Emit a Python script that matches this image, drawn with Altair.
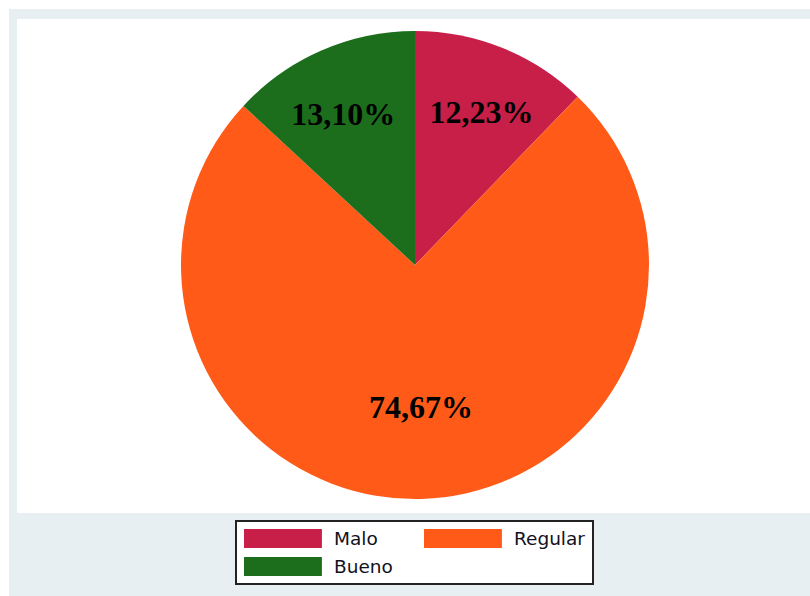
import altair as alt
import pandas as pd

categories = ["Malo", "Regular", "Bueno"]
values = [12.23, 74.67, 13.10]
colors = ["#c71f48", "#ff5a17", "#1d6e1c"]

labels = [f"{v:.2f}".replace(".", ",") + "%" for v in values]
df = pd.DataFrame({"cat": categories, "val": values, "lab": labels,
                   "ord": list(range(len(categories)))})

W, H = 793, 494
CX, CY, R = 398, 246, 234

bg = alt.Chart(alt.Data(values=[{}]))
strip_top = bg.mark_rect(color="white").encode(
    x=alt.value(-17), x2=alt.value(W), y=alt.value(-19), y2=alt.value(-10))
strip_left = bg.mark_rect(color="white").encode(
    x=alt.value(-17), x2=alt.value(-8), y=alt.value(-19), y2=alt.value(H + 83))

base = alt.Chart(df)
color = alt.Color("cat:N", sort=categories,
                  scale=alt.Scale(domain=categories, range=colors),
                  legend=alt.Legend(
                      title=None, orient="none", legendX=219, legendY=502,
                      direction="horizontal", columns=2,
                      symbolType="M-1,-1H7.2V1H-1Z", symbolSize=361,
                      symbolStrokeWidth=0, symbolOpacity=1,
                      labelFont="DejaVu Sans", labelFontSize=18.5,
                      labelColor="#111122", labelOffset=71,
                      columnPadding=31, rowPadding=9, padding=8,
                      strokeColor="#222222", fillColor="white"))

pie = base.mark_arc(radius=R).encode(
    theta=alt.Theta("val:Q", stack=True),
    order=alt.Order("ord:Q"),
    color=color,
    x=alt.value(CX), y=alt.value(CY),
)

def text_layer(cat, radius, dx, dy):
    return base.mark_text(font="Liberation Serif", fontWeight="bold", fontSize=32,
                          color="black", baseline="middle", align="center",
                          radius=radius, dx=dx, dy=dy).encode(
        theta=alt.Theta("val:Q", stack=True),
        order=alt.Order("ord:Q"),
        text="lab2:N",
        x=alt.value(CX), y=alt.value(CY),
    ).transform_calculate(lab2=f"datum.cat == '{cat}' ? datum.lab : ''")

t_malo = text_layer("Malo", 167, 4, 3)
t_reg = text_layer("Regular", 143, 2, 0)
t_bueno = text_layer("Bueno", 167, -5, 3)

chart = alt.layer(strip_top, strip_left, pie, t_malo, t_reg, t_bueno).properties(
    width=W, height=H,
    padding={"left": 17, "top": 19, "right": 0, "bottom": 83},
    autosize=alt.AutoSizeParams(type="none"),
    background="#e8eff2",
).configure_view(fill="white", stroke=None).configure_legend(strokeWidth=2)

chart.save("out.html", embed_options={"renderer": "svg", "actions": False})
